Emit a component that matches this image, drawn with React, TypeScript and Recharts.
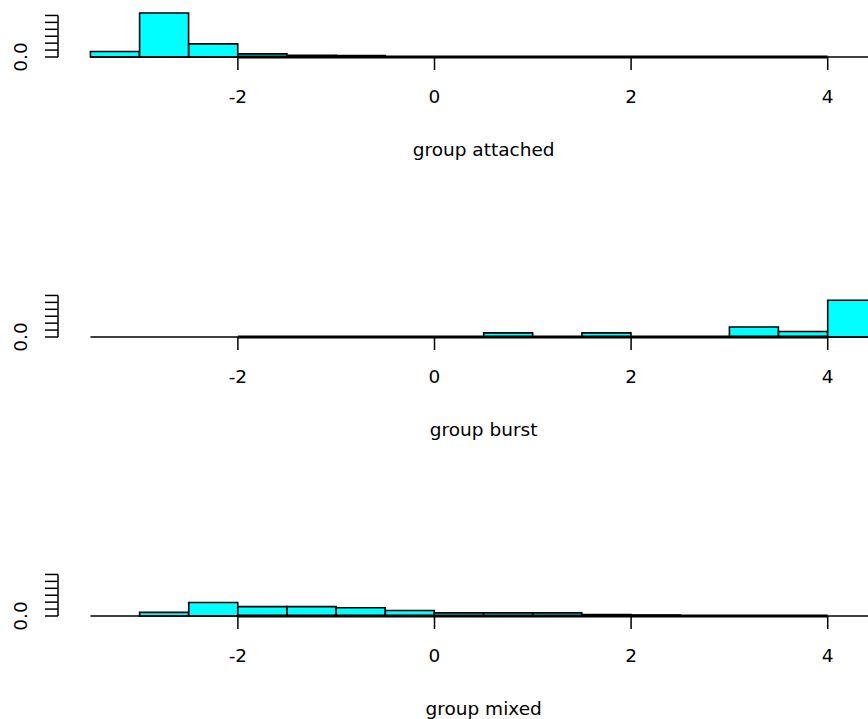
import { BarChart, Bar, XAxis, YAxis, ReferenceLine, Label } from "recharts";

// histogram bins of the discriminant score (width 0.5), by bin centre
const binMids = [-3.25, -2.75, -2.25, -1.75, -1.25, -0.75, -0.25, 0.25, 0.75, 1.25, 1.75, 2.25, 2.75, 3.25, 3.75, 4.25];
const binWidth = 0.5;

// densities
const attached = [0.16, 1.27, 0.38, 0.09, 0.05, 0.04, 0, 0, 0, 0, 0, 0, 0, 0, 0, 0];
const burst = [0, 0, 0, 0, 0, 0, 0, 0, 0.12, 0, 0.12, 0, 0, 0.29, 0.16, 1.06];
const mixed = [0, 0.105, 0.39, 0.27, 0.27, 0.24, 0.16, 0.09, 0.09, 0.09, 0.04, 0.03, 0, 0, 0, 0];

const groupNames = ["group attached", "group burst", "group mixed"];
const xTicks = [-2, 0, 2, 4];
const yTicks = [0, 0.2, 0.4, 0.6, 0.8, 1.0, 1.2];

const X_MIN = -3.83;
const X_MAX = 4.83;
const Y_MAX = 1.3;
const FONT = "DejaVu Sans";
const FS = 18.5;

function YTick(props: any) {
  const { x, y, payload } = props;
  if (payload.value !== 0) return null;
  return (
    <text
      x={x}
      y={y}
      transform={`rotate(-90 ${x} ${y})`}
      textAnchor="middle"
      fontFamily={FONT}
      fontSize={FS}
      fill="#000"
    >
      0.0
    </text>
  );
}

function GroupHist({ values, title, top }: { values: number[]; title: string; top: number }) {
  const data = binMids.map((x, i) => ({ x, density: values[i] }));
  const first = binMids[0] - binWidth / 2;
  const last = binMids[binMids.length - 1] + binWidth / 2;
  return (
    <div style={{ position: "absolute", left: 0, top }}>
      <BarChart
        width={920}
        height={161}
        data={data}
        margin={{ top: 10, right: 10.7, left: 0, bottom: 0 }}
        barCategoryGap={0}
        barGap={0}
      >
        <XAxis
          dataKey="x"
          type="number"
          domain={[X_MIN, X_MAX]}
          ticks={xTicks}
          interval={0}
          axisLine={false}
          tickLine={{ stroke: "#000", strokeWidth: 1.5 }}
          tickSize={13}
          tickMargin={20}
          height={106}
          tick={{ fontSize: FS, fill: "#000", fontFamily: FONT }}
        >
          <Label value={title} position="insideBottom" offset={7} fontSize={FS} fill="#000" fontFamily={FONT} />
        </XAxis>
        <YAxis
          type="number"
          domain={[0, Y_MAX]}
          ticks={yTicks}
          interval={0}
          width={58}
          axisLine={false}
          tickLine={{ stroke: "#000", strokeWidth: 1.5 }}
          tickSize={13}
          tickMargin={18}
          tick={<YTick />}
        />
        <ReferenceLine segment={[{ x: first, y: 0 }, { x: last, y: 0 }]} stroke="#000" strokeWidth={1.3} />
        <ReferenceLine
          segment={[{ x: xTicks[0], y: 0 }, { x: xTicks[xTicks.length - 1], y: 0 }]}
          stroke="#000"
          strokeWidth={2.8}
        />
        <ReferenceLine
          segment={[{ x: X_MIN, y: 0 }, { x: X_MIN, y: yTicks[yTicks.length - 1] }]}
          stroke="#000"
          strokeWidth={1.5}
        />
        <Bar dataKey="density" fill="#00FFFF" stroke="#000" strokeWidth={1.6} isAnimationActive={false} />
      </BarChart>
    </div>
  );
}

export default function App() {
  const series = [attached, burst, mixed];
  const tops = [2.3, 281.6, 561];
  return (
    <div
      style={{
        position: "absolute",
        left: 0,
        top: 0,
        width: 868,
        height: 719,
        overflow: "hidden",
        background: "#fff",
      }}
    >
      {series.map((values, i) => (
        <GroupHist key={groupNames[i]} values={values} title={groupNames[i]} top={tops[i]} />
      ))}
    </div>
  );
}
